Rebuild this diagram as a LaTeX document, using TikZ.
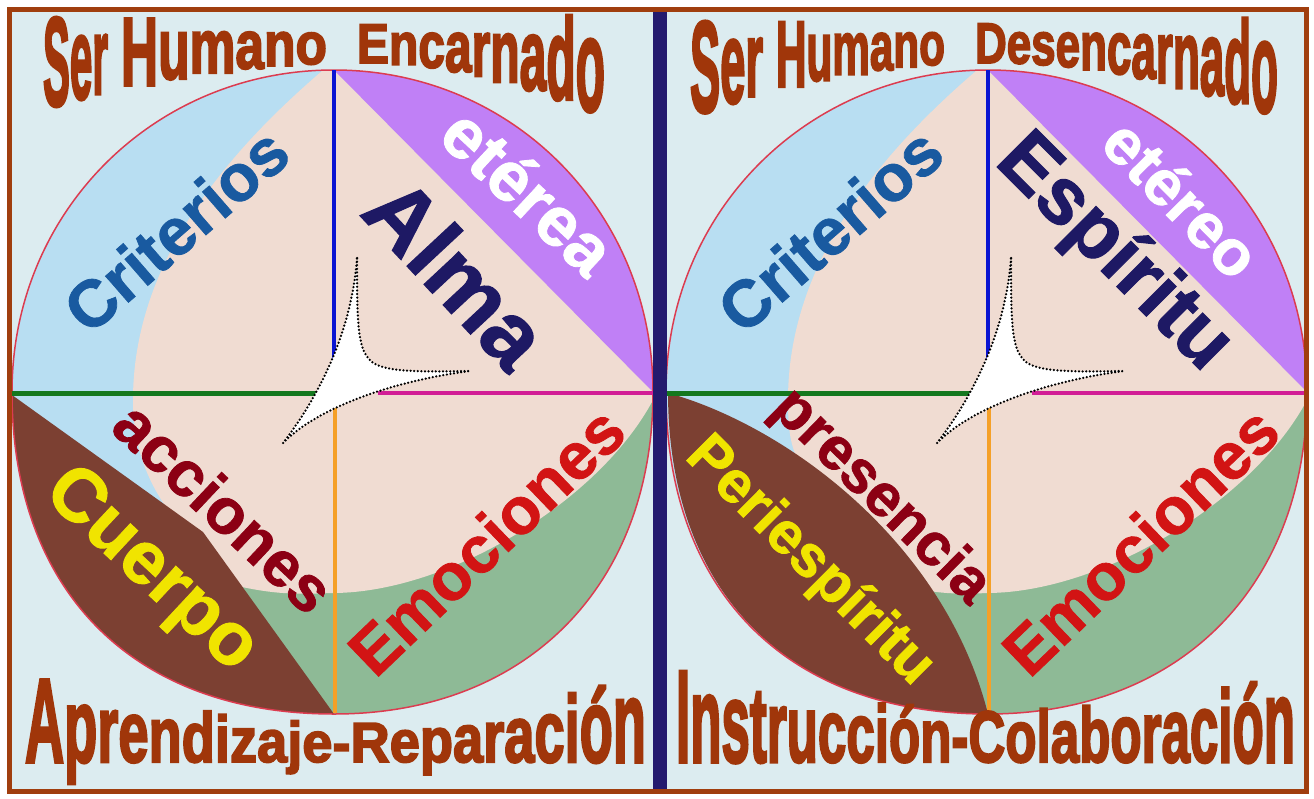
\documentclass[tikz,border=0pt]{standalone}
\usepackage{fontspec}
\usepackage{graphicx}
\newfontfamily\lsans{Liberation Sans}[BoldFeatures={FakeBold=1.2}]
\newfontfamily\lsanst{Liberation Sans}[BoldFeatures={FakeBold=3}]
\definecolor{panelbg}{RGB}{220,236,240}
\definecolor{cblue}{RGB}{184,222,242}
\definecolor{cpink}{RGB}{240,220,210}
\definecolor{cgreen}{RGB}{142,186,150}
\definecolor{cpurple}{RGB}{192,128,246}
\definecolor{cbrown}{RGB}{124,64,50}
\definecolor{cout}{RGB}{220,60,80}
\definecolor{tbrown}{RGB}{160,54,10}
\definecolor{bordercol}{RGB}{160,62,14}
\definecolor{divcol}{RGB}{36,26,110}
\definecolor{lblue}{RGB}{10,20,210}
\definecolor{lgreen}{RGB}{20,120,30}
\definecolor{lmag}{RGB}{210,30,150}
\definecolor{lorange}{RGB}{245,160,40}
\definecolor{txcrit}{RGB}{25,90,160}
\definecolor{txnavy}{RGB}{30,25,100}
\definecolor{txdred}{RGB}{140,0,20}
\definecolor{txyellow}{RGB}{240,228,0}
\definecolor{txred}{RGB}{210,20,20}
\newcommand\ttlfont{\lsanst\bfseries\fontsize{100pt}{100pt}\selectfont}
% #1 name prefix, #2 x0, #3 x1, #4 list letter/width(1/1000 em)
\newcommand\archword[4]{%
  \xdef\awsum{0}%
  \foreach \L/\W in {#4}{\pgfmathsetmacro\awtmp{\awsum+\W}\xdef\awsum{\awtmp}}%
  \pgfmathsetmacro\awsx{(#3-#2)/(\awsum/10)}%
  \xdef\awcur{#2}%
  \foreach \L/\W [count=\i] in {#4}{%
    \pgfmathsetmacro\aww{\awsx*\W/10}%
    \pgfmathsetmacro\xc{\awcur+\aww/2}%
    \pgfmathsetmacro\tp{\TopE}%
    \pgfmathsetmacro\bt{\BotE}%
    \pgfmathsetmacro\awsy{(\bt-\tp)/71.6}%
    \node[titleletter] (#1-\i) at (\awcur,\bt) {\scalebox{\awsx}[\awsy]{\ttlfont\L}};%
    \pgfmathsetmacro\awnx{\awcur+\aww}%
    \xdef\awcur{\awnx}%
  }%
}
\newcommand\lblsize[1]{\lsans\bfseries\fontsize{#1pt}{#1pt}\selectfont}
\def\outerpath{(12,392) .. controls (12,212) and (154,70) .. (334,70) .. controls (513,70) and (653,213) .. (653,392) .. controls (653,585) and (527,714) .. (334,714) .. controls (134,714) and (12,592) .. (12,392) -- cycle}
\newcommand\panelbase{%
  \fill[cblue] \outerpath;
  \begin{scope}
    \clip (190,392) rectangle (660,720);
    \fill[cgreen] \outerpath;
  \end{scope}
}
\newcommand\panelupper{%
  \fill[cpurple] (334,70) -- (653,392) .. controls (653,213) and (513,70) .. (334,70) -- cycle;
}
\newcommand\panellines{%
  \draw[cout, line width=1.5] \outerpath;
  \draw[lblue, line width=4] (334,70) -- (334,360);
  \draw[lgreen, line width=5] (12,393) -- (318,393);
  \draw[lmag, line width=4.5] (378,393) -- (653,393);
  \draw[lorange, line width=3.5] (335,405) -- (335,713);
  \filldraw[fill=white, draw=black, line width=2.5, dash pattern=on 0pt off 3.6pt, line cap=round]
    (357,258) .. controls (357,330) and (358,350) .. (372,362)
    .. controls (385,372) and (420,372) .. (470,371)
    .. controls (400,380) and (320,405) .. (283,443)
    .. controls (320,395) and (352,330) .. cycle;
}
\tikzset{
  titleletter/.style={anchor=base west, inner sep=0pt, outer sep=0pt, text=tbrown},
  lbl/.style={anchor=mid, inner sep=0pt, outer sep=0pt}
}
\begin{document}
\begin{tikzpicture}[x=1pt,y=-1pt]
\useasboundingbox (0,0) rectangle (1314,798);
\fill[white] (0,0) rectangle (1314,798);
\fill[panelbg] (9,9) rectangle (1306,791);

% ---------- left panel ----------
\panelbase
\fill[cpink] (322,71) .. controls (230,150) and (133,260) .. (133,400)
  .. controls (133,450) and (150,490) .. (180,525) -- (242,587)
  .. controls (280,595) and (300,594) .. (334,593)
  .. controls (450,592) and (600,500) .. (653,400) -- (653,392)
  .. controls (653,213) and (513,70) .. (334,70) -- cycle;
\panelupper
\fill[cbrown] (12,395) -- (203,532) -- (334,714) .. controls (134,714) and (12,592) .. (12,392) -- cycle;
\panellines

% ---------- right panel ----------
\begin{scope}[xshift=654pt]
\panelbase
\fill[cpink] (322,71) .. controls (230,150) and (134,260) .. (134,400)
  .. controls (134,430) and (136,450) .. (150,470) -- (270,590)
  .. controls (290,594) and (310,594) .. (334,593)
  .. controls (450,592) and (600,500) .. (653,400) -- (653,392)
  .. controls (653,213) and (513,70) .. (334,70) -- cycle;
\panelupper
\fill[cbrown] (14,393) .. controls (130,425) and (290,540) .. (334,714) .. controls (134,714) and (14,592) .. (14,392) -- cycle;
\panellines
\end{scope}

% ---------- labels left ----------
\node[lbl, text=txcrit, rotate=41, font=\lblsize{66}] (critL) at (190,246) {Criterios};
\node[lbl, text=white, rotate=-43, font=\lblsize{70}] (eterea) at (513,208) {etérea};
\node[lbl, text=txnavy, rotate=-47, font=\lblsize{90}] (alma) at (435,293) {Alma};
\node[lbl, text=txdred, rotate=-43.3, font=\lblsize{64}] (acciones) at (210,522) {acciones};
\node[lbl, text=txyellow, rotate=-43, font=\lblsize{75}] (cuerpo) at (139,583) {Cuerpo};
\node[lbl, text=txred, rotate=43.8, font=\lblsize{66}] (emoL) at (501,556) {Emociones};

% ---------- labels right ----------
\node[lbl, text=txcrit, rotate=41, font=\lblsize{66}] (critR) at (844,246) {Criterios};
\node[lbl, text=white, rotate=-45.5, font=\lblsize{64}] (etereo) at (1167,213) {etéreo};
\node[lbl, text=txnavy, rotate=-45, font=\lblsize{80}] (espiritu) at (1100,267) {Espíritu};
\node[lbl, text=txdred, rotate=-44.4, font=\lblsize{60}] (presencia) at (871,507) {presencia};
\node[lbl, text=txyellow, rotate=-45, font=\lblsize{59}] (peri) at (800,571) {Periespíritu};
\node[lbl, text=txred, rotate=43.8, font=\lblsize{66}] (emoR) at (1155,556) {Emociones};

% ---------- titles ----------
\def\TopE{15+8*exp(-((\xc-360)/150)^2)}
\def\BotE{63+((\xc<360)*4.6+(\xc>=360)*9)*((\xc-360)/100)^2}
\archword{tA}{43}{108}{S/667,e/556,r/389}
\archword{tB}{121}{327}{H/722,u/611,m/889,a/556,n/611,o/611}
\archword{tC}{357}{605}{E/667,n/611,c/556,a/556,r/389,n/611,a/556,d/611,o/611}

\def\TopE{19+3*exp(-((\xc-990)/150)^2)}
\def\BotE{63+((\xc<990)*6+(\xc>=990)*6.5)*((\xc-990)/100)^2}
\archword{tD}{690}{763}{S/667,e/556,r/389}
\archword{tE}{776}{945}{H/722,u/611,m/889,a/556,n/611,o/611}
\archword{tF}{975}{1278}{D/722,e/556,s/556,e/556,n/611,c/556,a/556,r/389,n/611,a/556,d/611,o/611}

\def\TopE{722-5.2*((\xc-340)/100)^2}
\def\BotE{762}
\archword{tG}{25}{646}{A/722,p/611,r/389,e/556,n/611,d/611,i/278,z/500,a/556,j/278,e/556,-/333,R/722,e/556,p/611,a/556,r/389,a/556,c/556,i/278,ó/611,n/611}

\def\TopE{710-4.2*((\xc-1000)/100)^2}
\def\BotE{762}
\archword{tH}{676}{1295}{I/278,n/611,s/556,t/333,r/389,u/611,c/556,c/556,i/278,ó/611,n/611,-/333,C/722,o/611,l/278,a/556,b/611,o/611,r/389,a/556,c/556,i/278,ó/611,n/611}

% ---------- frame ----------
\fill[divcol] (653,9) rectangle (667,791);
\draw[bordercol, line width=5] (9,9) rectangle (1306,791);
\end{tikzpicture}
\end{document}
